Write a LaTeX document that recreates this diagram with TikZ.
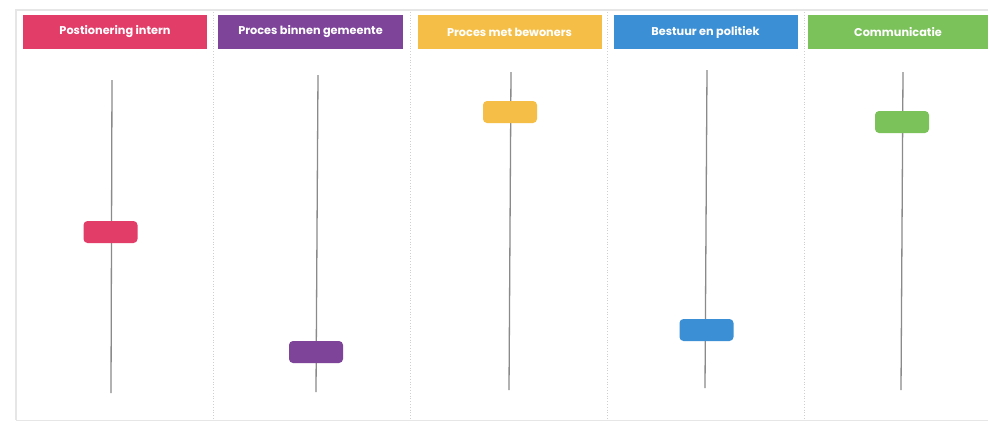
\documentclass[tikz,border=0pt]{standalone}
\usepackage{fontspec}
\setmainfont{Poppins}
\definecolor{cpink}{HTML}{E23C68}
\definecolor{cpurple}{HTML}{7D4499}
\definecolor{cyellow}{HTML}{F5BF47}
\definecolor{cblue}{HTML}{3B8FD5}
\definecolor{cgreen}{HTML}{7CC25B}
\definecolor{frame}{HTML}{E6E6E6}
\definecolor{track}{HTML}{8A8A8A}
\begin{document}
\begin{tikzpicture}[x=1pt,y=-1pt,
  header/.style={fill=#1, draw=none, minimum height=34pt, inner sep=0pt, text=white,
     font=\bfseries\fontsize{11.3}{12}\selectfont},
  handle/.style={fill=#1, draw=none, rounded corners=4pt, minimum width=54pt, minimum height=22pt, inner sep=0pt},
  trackline/.style={draw=track, line width=1.3pt},
  sep/.style={draw=frame!90!black, dotted, line width=0.8pt},
  border/.style={draw=frame, line width=1.2pt}]
\useasboundingbox[fill=white] (0,0) rectangle (988,424);
% frame
\draw[border] (16,420) -- (16,10) -- (988,10);
\draw[border] (16,420.5) -- (988,420.5);
% separators
\foreach \sx in {213,410,607,804} \draw[sep] (\sx,12) -- (\sx,419);
% headers
\node[header=cpink, minimum width=184pt] (h1) at (115,32) {Postionering intern};
\node[header=cpurple, minimum width=185pt] (h2) at (310.5,32) {Proces binnen gemeente};
\node[header=cyellow, minimum width=184pt] (h3) at (509.5,32) {Proces met bewoners};
\node[header=cblue, minimum width=184pt] (h4) at (705.5,32) {Bestuur en politiek};
\node[header=cgreen, minimum width=180pt] (h5) at (898,32) {Communicatie};
% tracks
\coordinate (t1) at (112,80);  \coordinate (b1) at (111,393);
\coordinate (t2) at (318,75);  \coordinate (b2) at (316,392);
\coordinate (t3) at (511,72);  \coordinate (b3) at (509,390);
\coordinate (t4) at (707,70);  \coordinate (b4) at (705,388);
\coordinate (t5) at (903,72);  \coordinate (b5) at (901,390);
\foreach \i in {1,...,5} \draw[trackline] (t\i) -- (b\i);
% handles
\node[handle=cpink] (s1) at (110.5,232) {};
\node[handle=cpurple] (s2) at (316,352) {};
\node[handle=cyellow] (s3) at (510,112) {};
\node[handle=cblue] (s4) at (706.5,330) {};
\node[handle=cgreen] (s5) at (902,122) {};
\end{tikzpicture}
\end{document}
